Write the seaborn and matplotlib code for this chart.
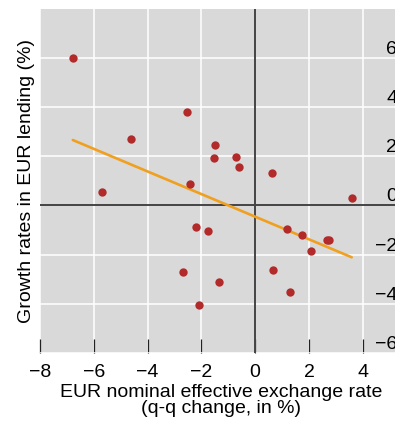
import seaborn as sns
import pandas as pd
import matplotlib.pyplot as plt

# Data
exchange_rate = [-6.78, -2.52, -4.61, -5.69, -1.51, -1.54, -0.72, -0.61, -2.43, 0.61, 3.59,
                 -2.19, -1.76, 1.18, 1.75, 2.66, 2.75, 2.08, -2.68, 0.66, -1.35, 1.28, -2.07]
lending_growth = [6.00, 3.78, 2.69, 0.53, 2.44, 1.94, 1.97, 1.55, 0.86, 1.33, 0.29,
                  -0.88, -1.04, -0.97, -1.22, -1.39, -1.42, -1.87, -2.69, -2.63, -3.13, -3.53, -4.06]
x_ticks = [-8, -6, -4, -2, 0, 2, 4]
y_ticks = [-6, -4, -2, 0, 2, 4, 6]

df = pd.DataFrame({'fx': exchange_rate, 'lending': lending_growth})

sns.set_theme(style='darkgrid', rc={'axes.facecolor': '#d9d9d9', 'grid.color': 'white',
                                    'grid.linewidth': 1.1})
plt.rcParams['font.family'] = ['Liberation Sans', 'DejaVu Sans']

fig = plt.figure(figsize=(3.95, 4.25), dpi=100)
ax = fig.add_axes([40 / 395, (425 - 353) / 425, (402 - 40) / 395, (353 - 8.5) / 425])

# Fitted line (OLS) and points
sns.regplot(x='fx', y='lending', data=df, ci=None, scatter=False, ax=ax,
            line_kws={'color': '#f0a01e', 'lw': 1.9, 'zorder': 3})
sns.scatterplot(x='fx', y='lending', data=df, ax=ax, color='#b22a2a', s=36,
                linewidth=0, zorder=4)

ax.axhline(0, color='#444444', lw=1.4, zorder=2)
ax.axvline(0, color='#444444', lw=1.4, zorder=2)

ax.set_xlim(-8, 5.46)
ax.set_ylim(-6, 8)
ax.set_xticks(x_ticks)
ax.set_yticks(y_ticks)
ax.set_yticklabels([str(v).replace('-', '\u2212') for v in y_ticks])
for s in ax.spines.values():
    s.set_visible(False)

ax.tick_params(axis='x', direction='in', bottom=True, length=10, width=0.9,
               color='#222222', pad=8, labelsize=14, labelcolor='black')
ax.yaxis.tick_right()
ax.tick_params(axis='y', length=0, pad=-3.6, labelsize=14, labelcolor='black')
for t in ax.get_yticklabels():
    t.set_horizontalalignment('right')
    t.set_verticalalignment('bottom')

ax.yaxis.set_label_position('left')
ax.set_ylabel('Growth rates in EUR lending (%)', fontsize=14, labelpad=3.5, color='black')
ax.set_xlabel('EUR nominal effective exchange rate\n(q-q change, in %)', fontsize=14,
              labelpad=2, color='black', linespacing=0.95)

plt.savefig('out.png', dpi=100)
